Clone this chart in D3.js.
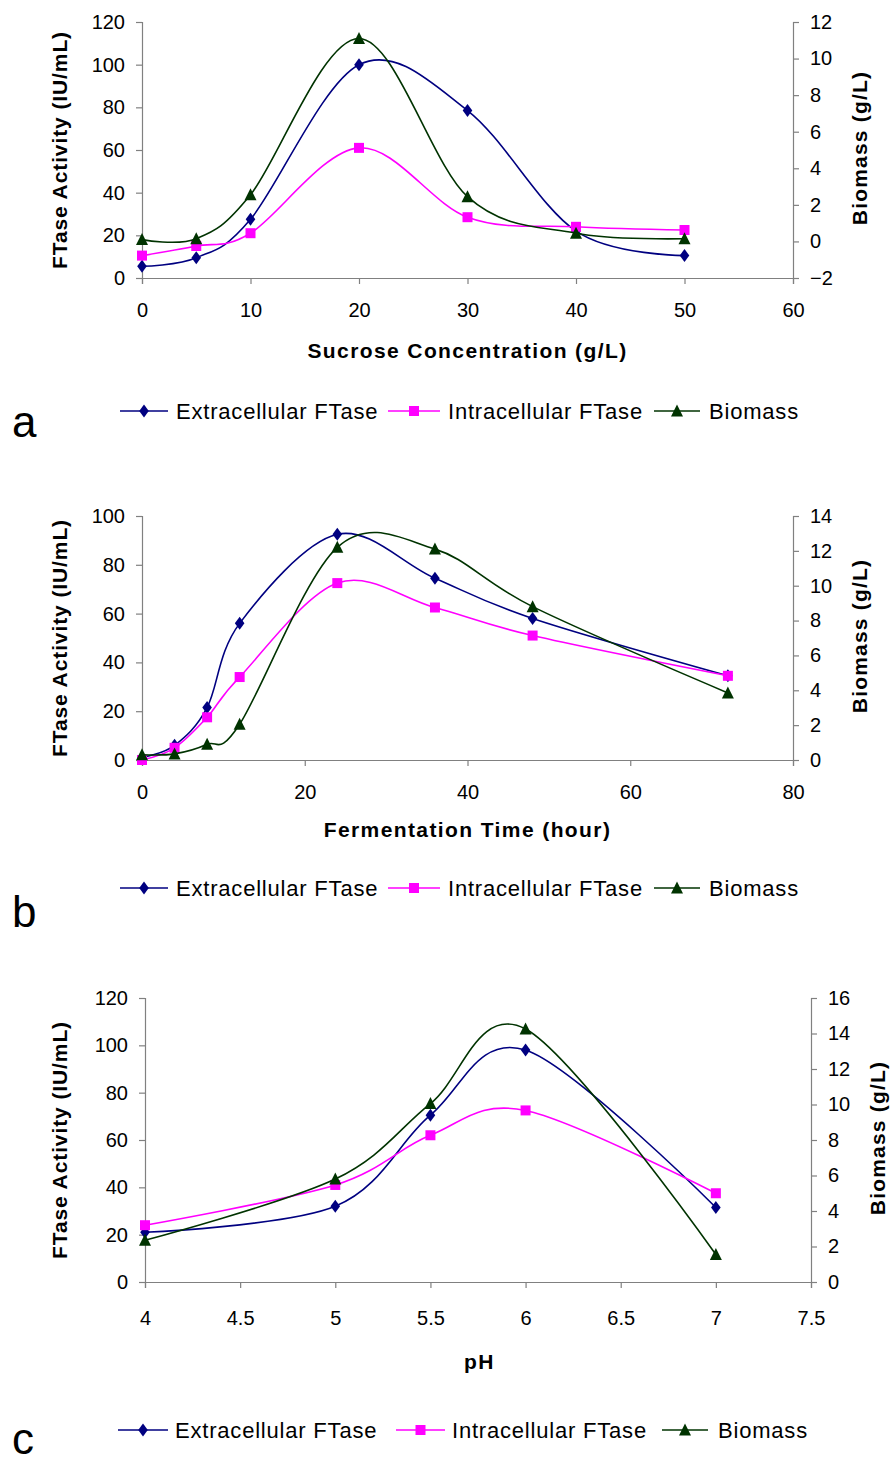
<!DOCTYPE html>
<html><head><meta charset="utf-8">
<script src="https://cdn.jsdelivr.net/npm/d3@7"></script>
<style>
html,body{margin:0;padding:0;background:#fff;}
svg text{font-family:"Liberation Sans",Arial,sans-serif;}
</style>
</head><body>
<svg id="chart" width="893" height="1464"></svg>
<script>
// ---- Data ----
const seriesNames = ["Extracellular FTase", "Intracellular FTase", "Biomass"];

// Panel a: sucrose concentration
const aX = [0, 5, 10, 20, 30, 40, 50];
const aExtra = [5.5, 9.5, 27.5, 100, 78.5, 22, 10.5];
const aIntra = [10.5, 15, 21, 61, 28.5, 24, 22.5];
const aBio = [0.1, 0.15, 2.55, 11.1, 2.45, 0.45, 0.15];
const aXTicks = [0, 10, 20, 30, 40, 50, 60];
const aYTicks = [0, 20, 40, 60, 80, 100, 120];
const aRTicks = [-2, 0, 2, 4, 6, 8, 10, 12];
const aXTitle = "Sucrose Concentration (g/L)";

// Panel b: fermentation time
const bX = [0, 4, 8, 12, 24, 36, 48, 72];
const bExtra = [1, 6, 21.5, 56, 92.5, 74.5, 58, 34.5];
const bIntra = [0, 5, 17.5, 34, 72.5, 62.5, 51, 34.5];
const bBio = [0.3, 0.35, 0.9, 2.05, 12.2, 12.1, 8.8, 3.85];
const bXTicks = [0, 20, 40, 60, 80];
const bYTicks = [0, 20, 40, 60, 80, 100];
const bRTicks = [0, 2, 4, 6, 8, 10, 12, 14];
const bXTitle = "Fermentation Time (hour)";

// Panel c: pH
const cX = [4, 5, 5.5, 6, 7];
const cExtra = [21, 32, 70.5, 98, 31.5];
const cIntra = [24, 41, 62, 72.5, 37.5];
const cBio = [2.35, 5.8, 10.05, 14.25, 1.55];
const cXTicks = [4, 4.5, 5, 5.5, 6, 6.5, 7, 7.5];
const cYTicks = [0, 20, 40, 60, 80, 100, 120];
const cRTicks = [0, 2, 4, 6, 8, 10, 12, 14, 16];
const cXTitle = "pH";

const yTitle = "FTase Activity (IU/mL)";
const rTitle = "Biomass (g/L)";
const panelLetters = ["a", "b", "c"];

// ---- Drawing ----
const colors = ["#000080", "#FF00FF", "#003300"];
const svg = d3.select("#chart");

const panels = [
  {x: aX, s: [aExtra, aIntra, aBio], xt: aXTicks, yt: aYTicks, rt: aRTicks, title: aXTitle, letter: panelLetters[0],
   L: 142, R: 793, T: 22, B: 278, xPad: 19, titleY: 358, legY: 411, letY: 437,
   leg: [[120,168,176],[388,440,448],[654,700,709]]},
  {x: bX, s: [bExtra, bIntra, bBio], xt: bXTicks, yt: bYTicks, rt: bRTicks, title: bXTitle, letter: panelLetters[1],
   L: 142, R: 793, T: 516, B: 760, xPad: 19, titleY: 837, legY: 888, letY: 927,
   leg: [[120,168,176],[388,440,448],[654,700,709]]},
  {x: cX, s: [cExtra, cIntra, cBio], xt: cXTicks, yt: cYTicks, rt: cRTicks, title: cXTitle, letter: panelLetters[2],
   L: 145, R: 811, T: 998, B: 1282, xPad: 23, titleY: 1369, legY: 1430, letY: 1454,
   leg: [[118,168,175],[396,445,452],[662,708,718]]}
];

function marker(g, type, color, cx, cy) {
  if (type === 0) {
    g.append("path").attr("d", `M${cx},${cy-6.5}L${cx+4.8},${cy}L${cx},${cy+6.5}L${cx-4.8},${cy}Z`).attr("fill", color);
  } else if (type === 1) {
    g.append("rect").attr("x", cx-5).attr("y", cy-5).attr("width", 10).attr("height", 10).attr("fill", color);
  } else {
    g.append("path").attr("d", `M${cx},${cy-6.5}L${cx+6},${cy+5.5}L${cx-6},${cy+5.5}Z`).attr("fill", color);
  }
}

panels.forEach(p => {
  const g = svg.append("g");
  const x = d3.scaleLinear().domain([p.xt[0], p.xt[p.xt.length-1]]).range([p.L, p.R]);
  const yL = d3.scaleLinear().domain([p.yt[0], p.yt[p.yt.length-1]]).range([p.B, p.T]);
  const yR = d3.scaleLinear().domain([p.rt[0], p.rt[p.rt.length-1]]).range([p.B, p.T]);

  const ax = g.append("g").attr("transform", `translate(0,${p.B})`)
    .call(d3.axisBottom(x).tickValues(p.xt).tickSize(6).tickPadding(p.xPad).tickFormat(d3.format("")));
  const al = g.append("g").attr("transform", `translate(${p.L},0)`)
    .call(d3.axisLeft(yL).tickValues(p.yt).tickSize(6).tickPadding(11).tickFormat(d3.format("")));
  const ar = g.append("g").attr("transform", `translate(${p.R},0)`)
    .call(d3.axisRight(yR).tickValues(p.rt).tickSize(6).tickPadding(11).tickFormat(d3.format("")));
  [ax, al, ar].forEach(a => {
    a.select(".domain").attr("stroke", "#808080").attr("stroke-width", 1.2);
    a.selectAll(".tick line").attr("stroke", "#808080").attr("stroke-width", 1.2);
    a.selectAll(".tick text").attr("fill", "#000").style("font-size", "20px")
      .style("font-family", '"Liberation Sans",Arial,sans-serif');
  });
  ax.selectAll(".tick text").attr("dy", "0.71em");

  // titles
  g.append("text").attr("x", (p.L + p.R)/2 + 0.5*(p.L - 142) ).attr("y", p.titleY)
    .attr("text-anchor", "middle").style("font-size", "21px").style("font-weight", "bold")
    .style("letter-spacing", "1.4px").text(p.title);
  g.append("text").attr("transform", `translate(67,${(p.T+p.B)/2}) rotate(-90)`)
    .attr("text-anchor", "middle").style("font-size", "21px").style("font-weight", "bold")
    .style("letter-spacing", "0.9px").text(yTitle);
  g.append("text").attr("transform", `translate(${p.R + 74},${(p.T+p.B)/2 - 2}) rotate(-90)`)
    .attr("text-anchor", "middle").style("font-size", "21px").style("font-weight", "bold")
    .style("letter-spacing", "1.2px").text(rTitle);

  // lines
  p.s.forEach((vals, i) => {
    const ys = i === 2 ? yR : yL;
    const line = d3.line().x((d, k) => x(p.x[k])).y(d => ys(d)).curve(d3.curveCatmullRom.alpha(0));
    g.append("path").datum(vals).attr("d", line).attr("fill", "none")
      .attr("stroke", colors[i]).attr("stroke-width", 1.6);
    vals.forEach((v, k) => marker(g, i, colors[i], x(p.x[k]), ys(v)));
  });

  // legend
  p.leg.forEach((l, i) => {
    g.append("line").attr("x1", l[0]).attr("x2", l[1]).attr("y1", p.legY).attr("y2", p.legY)
      .attr("stroke", colors[i]).attr("stroke-width", 1.6);
    marker(g, i, colors[i], (l[0]+l[1])/2, p.legY);
    g.append("text").attr("x", l[2]).attr("y", p.legY + 8).style("font-size", "22px")
      .style("letter-spacing", "0.8px").text(seriesNames[i]);
  });

  g.append("text").attr("x", 12).attr("y", p.letY).style("font-size", "44px").text(p.letter);
});
</script>
</body></html>
